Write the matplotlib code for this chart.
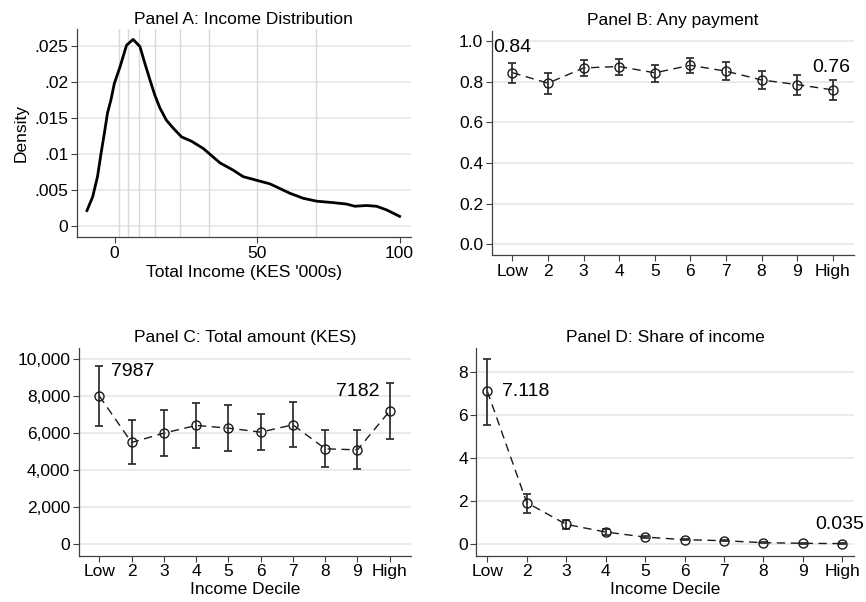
import numpy as np
import matplotlib
matplotlib.use('Agg')
import matplotlib.pyplot as plt
from matplotlib.ticker import FuncFormatter

plt.rcParams['font.family'] = ['Liberation Sans', 'DejaVu Sans']
plt.rcParams['font.size'] = 12.5

# Panel A: densidade da renda
dens_x = [-9.7, -7.7, -6.0, -4.8, -3.6, -2.5, -1.3, -0.1, 1.9, 4.2, 6.5, 8.9, 10.6, 12.4,
          14.1, 15.9, 18.2, 20.6, 23.5, 27.0, 31.1, 37, 41.6, 45.1, 49.8, 54.5,
          61.5, 66.2, 70.9, 76.7, 81.4, 84.3, 88.4, 91.9, 95.4, 100]
dens_y = [0.0022, 0.0041, 0.0069, 0.0100, 0.0129, 0.0157, 0.0175, 0.0198, 0.0221, 0.0251,
          0.0259, 0.0249, 0.0226, 0.0203, 0.0182, 0.0164, 0.0147, 0.0136, 0.0124, 0.0118,
          0.0108, 0.0088, 0.0078, 0.0069, 0.0064, 0.0059, 0.0046, 0.0039, 0.0035,
          0.0033, 0.0031, 0.0028, 0.0029, 0.0028, 0.0023, 0.0014]
decile_cuts = [1.4, 4.8, 8.6, 14.2, 23.1, 33.2, 49.8, 70.6]

deciles = ['Low', '2', '3', '4', '5', '6', '7', '8', '9', 'High']

# Panel B: qualquer pagamento
any_pay = [0.844, 0.792, 0.867, 0.874, 0.843, 0.880, 0.851, 0.808, 0.785, 0.759]
any_lo = [0.795, 0.739, 0.825, 0.833, 0.800, 0.841, 0.808, 0.762, 0.736, 0.710]
any_hi = [0.890, 0.844, 0.907, 0.913, 0.882, 0.916, 0.895, 0.852, 0.833, 0.807]

# Panel C: valor total (KES)
amount = [7987, 5486, 5989, 6403, 6259, 6043, 6439, 5144, 5090, 7182]
amount_lo = [6385, 4335, 4784, 5180, 5036, 5090, 5252, 4173, 4065, 5683]
amount_hi = [9586, 6673, 7212, 7626, 7500, 7014, 7662, 6133, 6133, 8687]

# Panel D: parcela da renda
share = [7.118, 1.94, 0.93, 0.575, 0.34, 0.22, 0.17, 0.08, 0.05, 0.035]
share_lo = [5.56, 1.44, 0.71, 0.45, 0.28, 0.19, 0.14, 0.06, 0.04, 0.025]
share_hi = [8.64, 2.35, 1.13, 0.70, 0.40, 0.25, 0.20, 0.10, 0.06, 0.045]

W, H = 866, 602
fig = plt.figure(figsize=(W / 100, H / 100), dpi=100)


def eixo(l, t, r, b):
    return fig.add_axes([l / W, 1 - b / H, (r - l) / W, (b - t) / H])


def estilo(ax):
    for s in ['top', 'right']:
        ax.spines[s].set_visible(False)
    for s in ['left', 'bottom']:
        ax.spines[s].set_color('#404040')
        ax.spines[s].set_linewidth(0.9)
    ax.tick_params(direction='out', length=4, color='#404040', labelsize=12.5, pad=2)
    ax.yaxis.grid(True, color='#e6e6e6', linewidth=1.2)
    ax.set_axisbelow(True)


cor = '#1a1a1a'


def painel_decil(ax, y, lo, hi, titulo):
    x = np.arange(1, 11)
    y = np.array(y)
    ax.plot(x, y, color=cor, linestyle=(0, (6, 4)), linewidth=1.0, zorder=2)
    ax.errorbar(x, y, yerr=[y - np.array(lo), np.array(hi) - y], fmt='none',
                ecolor='#333333', elinewidth=1.3, capsize=3.2, capthick=1.3, zorder=3)
    ax.plot(x, y, 'o', markersize=6.5, markerfacecolor='none', markeredgecolor=cor,
            markeredgewidth=1.0, zorder=4)
    ax.set_xticks(x)
    ax.set_xticklabels(deciles)
    ax.set_title(titulo, fontsize=12.5, pad=4)
    estilo(ax)


# Panel A
ax = eixo(76.7, 29.3, 410.7, 237.3)
for c in decile_cuts:
    ax.axvline(c, color='#d9d9d9', linewidth=1.0, zorder=1)
ax.plot(dens_x, dens_y, color='black', linewidth=2.0, zorder=3,
        solid_joinstyle='round')
ax.set_xlim(-13.3, 103.9)
ax.set_ylim(-0.0015, 0.0273)
ax.set_xticks([0, 50, 100])
ax.set_yticks([0, 0.005, 0.01, 0.015, 0.02, 0.025])
ax.set_yticklabels(['0', '.005', '.01', '.015', '.02', '.025'])
ax.set_xlabel("Total Income (KES '000s)", fontsize=12.5, labelpad=3)
ax.set_ylabel('Density', fontsize=12.5, labelpad=4)
ax.set_title('Panel A: Income Distribution', fontsize=12.5, pad=4)
estilo(ax)

# Panel B
ax = eixo(491.7, 30.7, 853.7, 255.3)
painel_decil(ax, any_pay, any_lo, any_hi, 'Panel B: Any payment')
ax.set_xlim(0.42, 10.59)
ax.set_ylim(-0.054, 1.05)
ax.set_yticks([0, 0.2, 0.4, 0.6, 0.8, 1.0])
ax.yaxis.set_major_formatter(FuncFormatter(lambda v, p: f'{v:.1f}'))
ax.text(1, any_hi[0] + 0.035, f'{any_pay[0]:.2f}', ha='center', va='bottom', fontsize=14)
ax.text(10.5, any_hi[9] + 0.02, f'{any_pay[9]:.2f}', ha='right', va='bottom', fontsize=14)

# Panel C
ax = eixo(78.7, 348, 410.7, 556)
painel_decil(ax, amount, amount_lo, amount_hi, 'Panel C: Total amount (KES)')
ax.set_xlim(0.36, 10.65)
ax.set_ylim(-630, 10576)
ax.set_yticks(range(0, 10001, 2000))
ax.yaxis.set_major_formatter(FuncFormatter(lambda v, p: f'{int(v):,}'))
ax.set_xlabel('Income Decile', fontsize=12.5, labelpad=2)
ax.text(1.35, amount_hi[0] - 250, str(amount[0]), ha='left', va='center', fontsize=14)
ax.text(9.67, 8250, str(amount[9]), ha='right', va='center', fontsize=14)

# Panel D
ax = eixo(476.3, 348, 853.7, 556)
painel_decil(ax, share, share_lo, share_hi, 'Panel D: Share of income')
ax.set_xlim(0.72, 10.29)
ax.set_ylim(-0.54, 9.13)
ax.set_yticks([0, 2, 4, 6, 8])
ax.set_xlabel('Income Decile', fontsize=12.5, labelpad=2)
ax.text(1.38, share[0], f'{share[0]:.3f}', ha='left', va='center', fontsize=14)
ax.text(10.55, 0.55, f'{share[9]:.3f}', ha='right', va='bottom', fontsize=14)

fig.savefig('out.png', dpi=100)
